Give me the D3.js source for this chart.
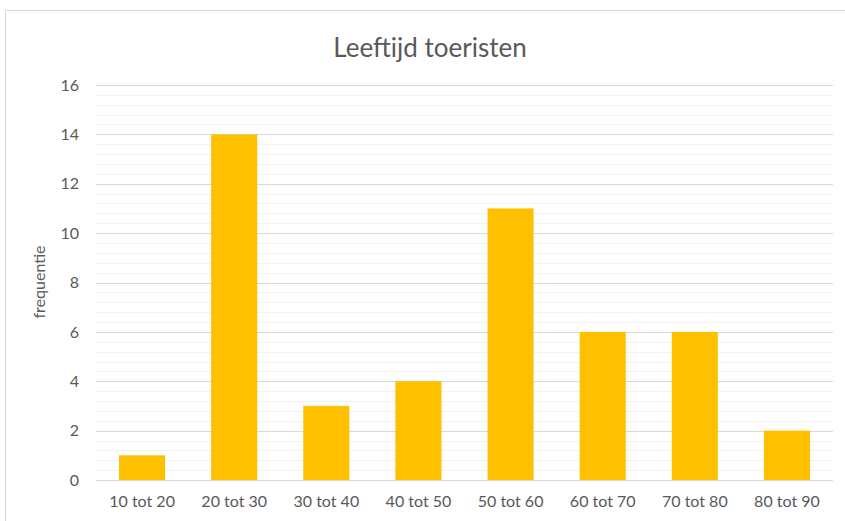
<!DOCTYPE html>
<html><head><meta charset="utf-8">
<script src="https://cdn.jsdelivr.net/npm/d3@7"></script>
<style>body{margin:0;background:#fff}svg{display:block}text{font-family:Lato,"Open Sans",sans-serif;fill:#595959}</style>
</head><body>
<svg id="c" width="845" height="521"></svg>
<script>
const categories = ["10 tot 20","20 tot 30","30 tot 40","40 tot 50","50 tot 60","60 tot 70","70 tot 80","80 tot 90"];
const frequencies = [1,14,3,4,11,6,6,2];
const yTicks = [0,2,4,6,8,10,12,14,16];
const title = "Leeftijd toeristen";
const yLabel = "frequentie";

const svg = d3.select("#c");
const m = {l:96, r:833, t:85, b:480};
svg.append("rect").attr("x",5.5).attr("y",10.5).attr("width",850).attr("height",530)
  .attr("fill","#fff").attr("stroke","#d9d9d9");

const x = d3.scaleBand().domain(categories).range([m.l,m.r]).paddingInner(0.5).paddingOuter(0.25);
const y = d3.scaleLinear().domain([0,16]).range([m.b,m.t]);

const minor = d3.range(0,16.01,0.4).filter(v=>Math.abs(v/2-Math.round(v/2))>1e-6);
svg.append("g").selectAll("line").data(minor).join("line")
  .attr("x1",m.l).attr("x2",m.r).attr("y1",d=>Math.round(y(d))+0.5).attr("y2",d=>Math.round(y(d))+0.5)
  .attr("stroke","#f2f2f2");
svg.append("g").selectAll("line").data(yTicks).join("line")
  .attr("x1",m.l).attr("x2",m.r).attr("y1",d=>Math.round(y(d))+0.5).attr("y2",d=>Math.round(y(d))+0.5)
  .attr("stroke","#d9d9d9");

svg.append("g").selectAll("rect").data(frequencies).join("rect")
  .attr("x",(d,i)=>x(categories[i])).attr("width",x.bandwidth())
  .attr("y",d=>y(d)).attr("height",d=>y(0)-y(d)).attr("fill","#ffc000");

const yAxis = svg.append("g").attr("transform",`translate(${m.l},0)`)
  .call(d3.axisLeft(y).tickValues(yTicks).tickSize(0).tickPadding(17));
yAxis.select(".domain").remove();
yAxis.selectAll("text").style("font-size","16px").attr("fill","#595959");

const xAxis = svg.append("g").attr("transform",`translate(0,${m.b})`)
  .call(d3.axisBottom(x).tickSize(0).tickPadding(16));
xAxis.select(".domain").remove();
xAxis.selectAll("text").style("font-size","16px").attr("fill","#595959");

svg.append("text").attr("x",430).attr("y",57).attr("text-anchor","middle")
  .style("font-size","26px").text(title);
svg.append("text").attr("transform","translate(45,282) rotate(-90)").attr("text-anchor","middle")
  .style("font-size","16px").text(yLabel);
</script>
</body></html>
